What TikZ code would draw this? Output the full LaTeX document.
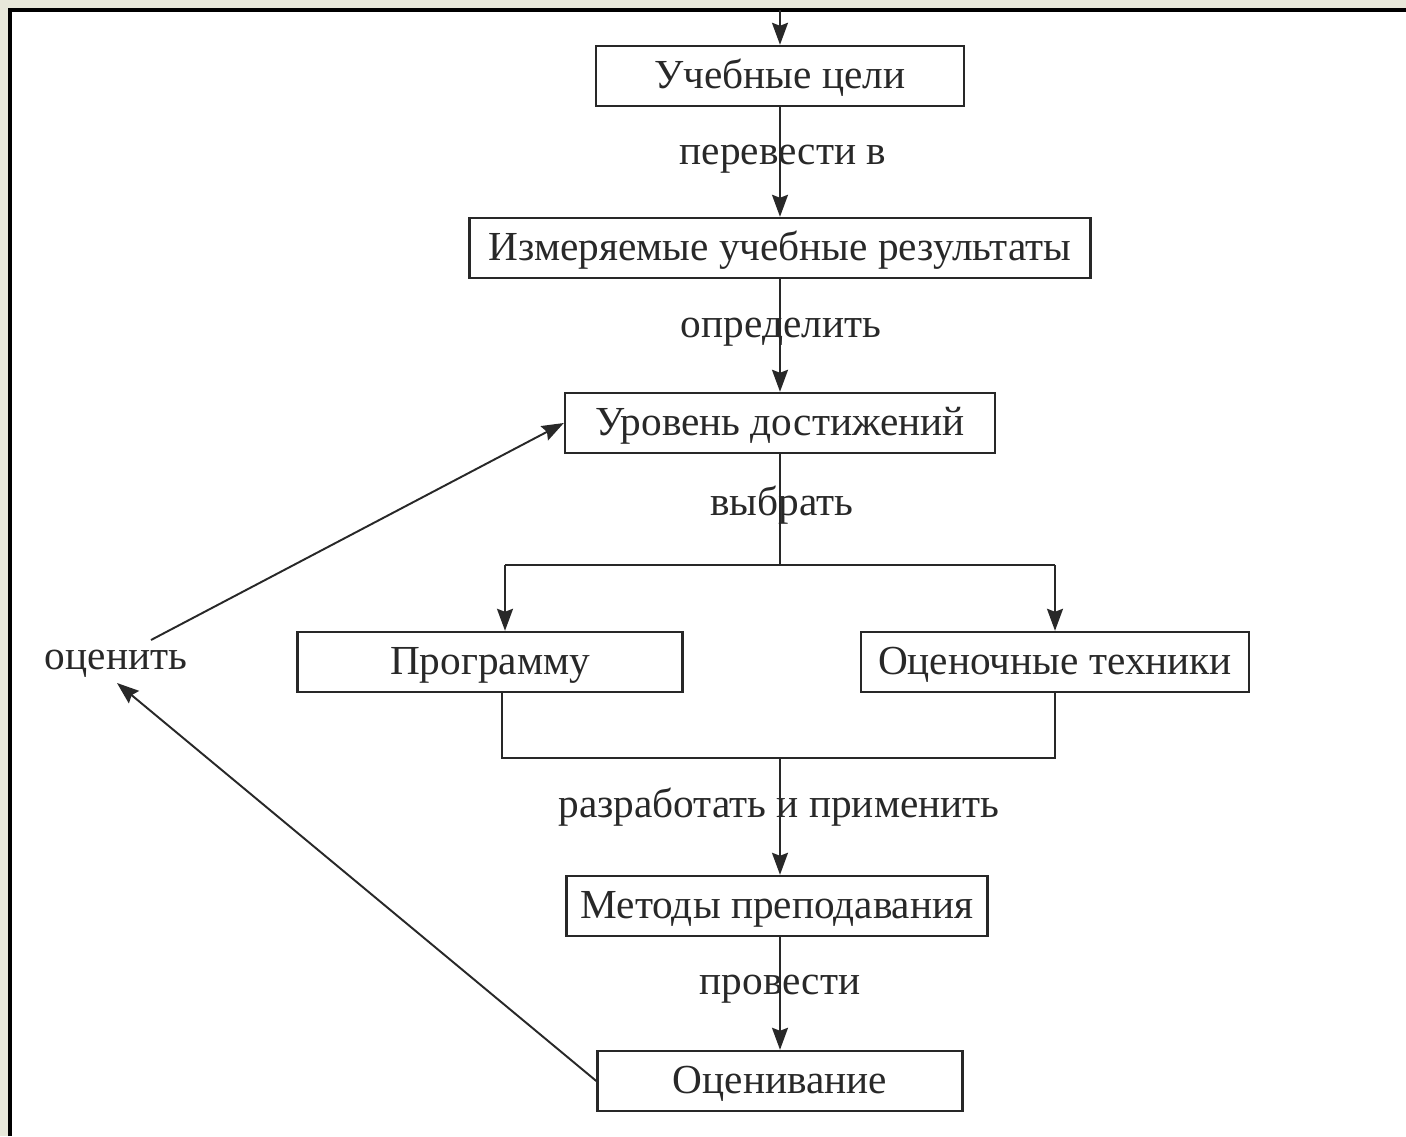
\documentclass[tikz,border=0pt]{standalone}
\usepackage{fontspec}
\setmainfont{Liberation Serif}
\usetikzlibrary{arrows.meta}

\definecolor{paper}{RGB}{232,232,218}
\definecolor{ink}{RGB}{40,40,40}

\tikzset{
	stage/.style={draw=ink, line width=1.4pt, minimum height=1.2cm, inner sep=0pt, font=\fontsize{23.5}{28}\selectfont, text=ink, text height=0.48cm, text depth=0pt},
	verb/.style={font=\fontsize{23.5}{28}\selectfont, text=ink, inner sep=0pt, text height=0.48cm, text depth=0pt},
	link/.style={draw=ink, line width=1.1pt},
	arrow/.style={link, -{Stealth[length=0.44cm, width=0.32cm, inset=0.06cm]}}
}

\begin{document}
\begin{tikzpicture}[x=0.02cm, y=-0.02cm]

	% page and frame
	\useasboundingbox (0,0) rectangle (1406,1136);
	\fill[paper] (0,0) rectangle (1406,1136);
	\fill[white] (10,10) rectangle (1406,1136);
	\draw[line width=2.3pt] (10,1136) -- (10,10) -- (1406,10);

	% boxes
	\node[stage, minimum width=7.36cm]  (goals)   at (780,76)   {Учебные цели};
	\node[stage, minimum width=12.42cm] (results) at (780,248)  {Измеряемые учебные результаты};
	\node[stage, minimum width=8.6cm]   (level)   at (780,423)  {Уровень достижений};
	\node[stage, minimum width=7.7cm]   (program) at (490,662)  {Программу};
	\node[stage, minimum width=7.76cm]  (tech)    at (1055,662) {Оценочные техники};
	\node[stage, minimum width=8.42cm]  (methods) at (777,906)  {Методы преподавания};
	\node[stage, minimum width=7.3cm]   (assess)  at (780,1081) {Оценивание};

	% verbs
	\node[verb] (v1) at (783,152) {перевести в};
	\node[verb] (v2) at (781,325) {определить};
	\node[verb] (v3) at (782,503) {выбрать};
	\node[verb] (v4) at (779,805) {разработать и применить};
	\node[verb] (v5) at (780,982) {провести};
	\node[verb] (v6) at (116,657) {оценить};

	% helper points
	\coordinate (entry) at (780,10);
	\coordinate (split) at (780,565);
	\coordinate (L1) at (505,565);
	\coordinate (R1) at (1055,565);
	\coordinate (L2) at (502,758);
	\coordinate (R2) at (1055,758);
	\coordinate (join) at (780,758);
	\coordinate (backA) at (151,640);
	\coordinate (backB) at (117,683);

	% main chain
	\draw[arrow] (entry) -- (goals);
	\draw[arrow] (goals) -- (results);
	\draw[arrow] (results) -- (level);
	\draw[link] (level) -- (split);
	\draw[link] (L1) -- (R1);
	\draw[arrow] (L1) -- (L1 |- program.north);
	\draw[arrow] (R1) -- (R1 |- tech.north);
	\draw[link] (L2 |- program.south) -- (L2) -- (R2) -- (R2 |- tech.south);
	\draw[arrow] (join) -- (join |- methods.north);
	\draw[arrow] (methods.south -| join) -- (assess);

	% feedback
	\draw[arrow] (assess.west) -- (backB);
	\draw[arrow] (backA) -- (level.west);

\end{tikzpicture}
\end{document}
